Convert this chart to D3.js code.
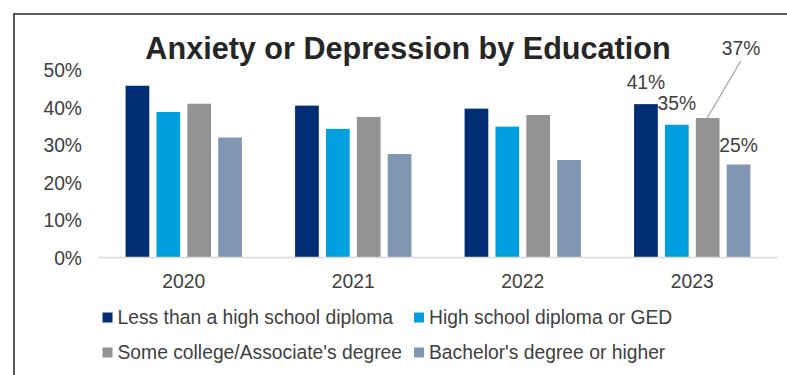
<!DOCTYPE html>
<html>
<head>
<meta charset="utf-8">
<script src="https://cdn.jsdelivr.net/npm/d3@7"></script>
<style>
  html, body { margin: 0; padding: 0; background: #fff; }
  svg { display: block; font-family: "Liberation Sans", Arial, sans-serif; }
</style>
</head>
<body>
<svg id="chart" width="787" height="375"></svg>
<script>
const years = ["2020", "2021", "2022", "2023"];
const seriesNames = ["Less than a high school diploma", "High school diploma or GED", "Some college/Associate's degree", "Bachelor's degree or higher"];
const lessThanHS = [45.8, 40.5, 39.7, 40.9];
const hsOrGED = [38.8, 34.3, 34.9, 35.4];
const someCollege = [41.0, 37.5, 38.0, 37.2];
const bachelors = [32.0, 27.6, 26.0, 24.8];
const yTicks = [0, 10, 20, 30, 40, 50];
const labels2023 = ["41%", "35%", "37%", "25%"];
const colors = ["#002D74", "#009FDF", "#939393", "#8096B2"];

const series = [lessThanHS, hsOrGED, someCollege, bachelors];
const svg = d3.select("#chart");
const FS = 19.3;

// frame
svg.append("path")
  .attr("d", "M14,380 L14,14 L790,14")
  .attr("fill", "none").attr("stroke", "#595959").attr("stroke-width", 2);

const x0 = d3.scaleBand().domain(years).range([99, 777]).paddingInner(0).paddingOuter(0);
const y = d3.scaleLinear().domain([0, 50]).range([257.5, 70]);
const stride = 30.87, bw = 23.7;

// title
svg.append("text").attr("x", 408).attr("y", 58.5).attr("text-anchor", "middle")
  .attr("font-size", 30.6).attr("font-weight", "bold").attr("fill", "#262626")
  .text("Anxiety or Depression by Education");

// y axis labels
const yAxis = d3.axisLeft(y).tickValues(yTicks).tickFormat(d => d + "%").tickSize(0).tickPadding(0);
const ga = svg.append("g").attr("transform", "translate(82,0)").call(yAxis);
ga.select(".domain").remove();
ga.selectAll("text").attr("font-size", FS).attr("fill", "#404040")
  .attr("font-family", "'Liberation Sans', Arial, sans-serif").attr("dy", "0.35em");

// bars
years.forEach((yr, gi) => {
  const cx = x0(yr) + x0.bandwidth() / 2;
  series.forEach((s, si) => {
    const bx = cx + (si - 1.5) * stride - bw / 2;
    svg.append("rect")
      .attr("x", bx).attr("y", y(s[gi]))
      .attr("width", bw).attr("height", y(0) - y(s[gi]))
      .attr("fill", colors[si]);
  });
});

// x axis line
svg.append("line").attr("x1", 99).attr("x2", 777).attr("y1", 257.5).attr("y2", 257.5)
  .attr("stroke", "#D9D9D9").attr("stroke-width", 1.5);

// x labels
const xAxis = d3.axisBottom(x0).tickSize(0).tickPadding(0);
const gx = svg.append("g").attr("transform", "translate(0,270)").call(xAxis);
gx.select(".domain").remove();
gx.selectAll("text").attr("font-size", FS).attr("fill", "#404040")
  .attr("font-family", "'Liberation Sans', Arial, sans-serif").attr("dy", "0.95em");

// data labels for 2023
const cx23 = x0("2023") + x0.bandwidth() / 2;
const labelOffsets = [[0, -15], [0, -14.5], [0, 0], [0, -13]];
series.forEach((s, si) => {
  const bcx = cx23 + (si - 1.5) * stride;
  if (si === 2) return;
  svg.append("text").attr("x", bcx + labelOffsets[si][0]).attr("y", y(s[3]) + labelOffsets[si][1])
    .attr("text-anchor", "middle").attr("font-size", FS).attr("fill", "#404040")
    .text(labels2023[si]);
});
// 37% with leader line
{
  const bcx = cx23 + 0.5 * stride;
  svg.append("line").attr("x1", bcx - 0.5).attr("y1", y(someCollege[3])).attr("x2", 740.7).attr("y2", 61)
    .attr("stroke", "#A6A6A6").attr("stroke-width", 1.3);
  svg.append("text").attr("x", 741).attr("y", 55).attr("text-anchor", "middle")
    .attr("font-size", FS).attr("fill", "#404040").text(labels2023[2]);
}

// legend
const legendPos = [[102.5, 323.5], [414, 323.5], [102.5, 358.5], [414, 358.5]];
seriesNames.forEach((n, i) => {
  const [lx, ly] = legendPos[i];
  svg.append("rect").attr("x", lx).attr("y", ly - 11).attr("width", 10).attr("height", 10).attr("fill", colors[i]);
  svg.append("text").attr("x", lx + 15).attr("y", ly).attr("font-size", FS).attr("fill", "#404040").text(n);
});
</script>
</body>
</html>
